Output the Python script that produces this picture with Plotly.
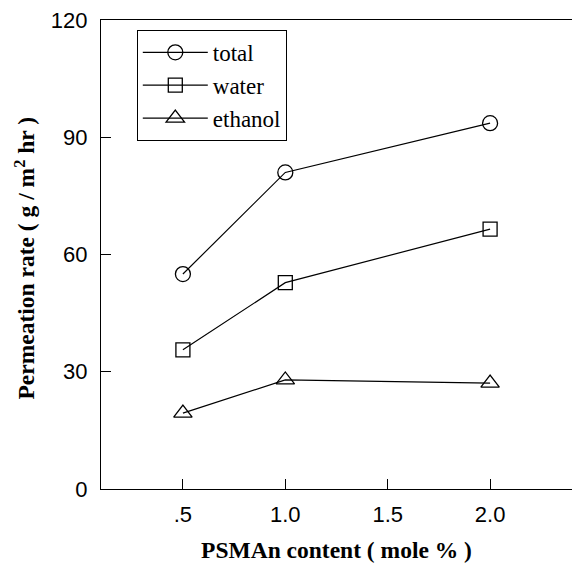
import plotly.graph_objects as go

x_vals = [0.5, 1.0, 2.0]
total = [55.0, 81.0, 93.6]
water = [35.6, 52.8, 66.5]
ethanol = [19.4, 27.9, 27.1]

x_ticks = [0.5, 1.0, 1.5, 2.0]
x_tick_text = [".5", "1.0", "1.5", "2.0"]
y_ticks = [0, 30, 60, 90, 120]

fig = go.Figure()
series = [("total", total, "circle-open", 15), ("water", water, "square-open", 14), ("ethanol", ethanol, "triangle-up-open", 16)]
for name, ys, sym, sz in series:
    fig.add_trace(go.Scatter(
        x=x_vals, y=ys, name=name, mode="lines+markers",
        line=dict(color="black", width=1.2),
        marker=dict(symbol=sym, size=sz, color="black", line=dict(width=1.3, color="black")),
    ))

fig.add_annotation(
    text="<b>Permeation rate ( g / m<sup>2</sup> hr )</b>",
    xref="paper", yref="paper", x=0, y=0.5, xanchor="center", yanchor="middle",
    xshift=-77, yshift=-4, textangle=-90, showarrow=False,
    font=dict(family="Liberation Serif, Times New Roman", size=23.5, color="black"),
)

fig.update_layout(
    width=573, height=570,
    margin=dict(l=101, r=1, t=20, b=81),
    paper_bgcolor="white", plot_bgcolor="white",
    font=dict(family="Liberation Sans, Arial", size=22, color="black"),
    showlegend=True,
    legend=dict(
        x=0.076, y=0.979, xanchor="left", yanchor="top",
        bordercolor="black", borderwidth=1, bgcolor="white",
        font=dict(family="Liberation Serif, Times New Roman", size=23, color="black"),
        itemwidth=65,
    ),
    xaxis=dict(
        range=[0.1, 2.4], tickvals=x_ticks, ticktext=x_tick_text,
        ticks="inside", ticklen=10, tickcolor="black", tickwidth=1,
        showline=True, linecolor="black", linewidth=1.3, mirror=True,
        showgrid=False, zeroline=False,
        ticklabelstandoff=5,
        title=dict(text="<b>PSMAn content ( mole % )</b>",
                   font=dict(family="Liberation Serif, Times New Roman", size=23.5), standoff=16),
    ),
    yaxis=dict(
        range=[0, 120], tickvals=y_ticks,
        ticks="inside", ticklen=10, tickcolor="black", tickwidth=1,
        showline=True, linecolor="black", linewidth=1.3, mirror=False,
        showgrid=False, zeroline=False,
        ticklabelstandoff=8,
    ),
)

fig.write_html("out.html")
